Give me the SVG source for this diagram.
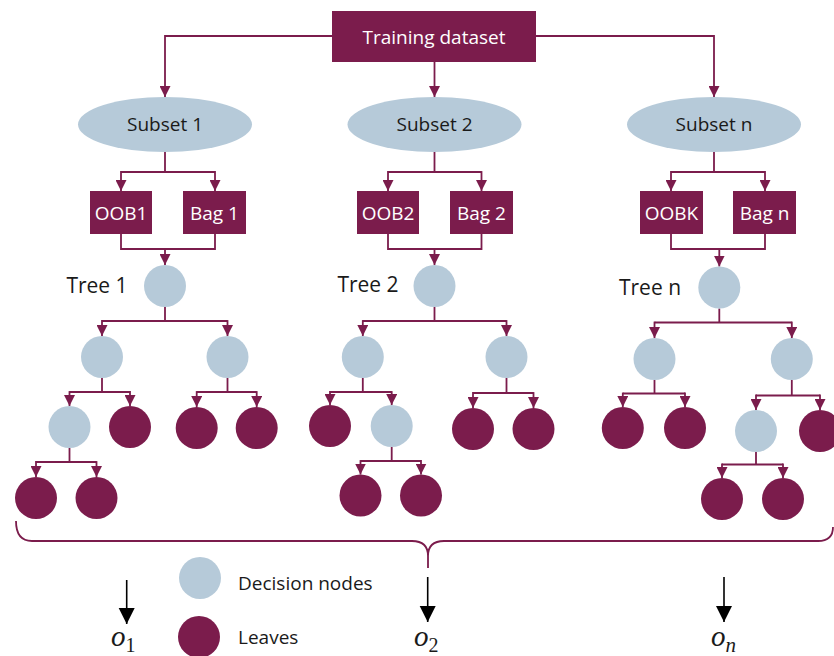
<svg xmlns="http://www.w3.org/2000/svg" width="834" height="656" viewBox="0 0 834 656">
<defs>
<marker id="ah" viewBox="0 0 10 10" refX="10" refY="5" markerUnits="userSpaceOnUse" markerWidth="11" markerHeight="11" orient="auto"><path d="M0,0 L10,5 L0,10 z" fill="#7b1c4c"/></marker>
<marker id="bh" viewBox="0 0 10 10" refX="10" refY="5" markerUnits="userSpaceOnUse" markerWidth="16" markerHeight="17" orient="auto"><path d="M0,0 L10,5 L0,10 z" fill="#000"/></marker>
<style>
.t{font-family:"Open Sans","Liberation Sans",sans-serif;font-size:19px;fill:#1a1a1a;text-anchor:middle}
.tl{font-size:21px}
.w{fill:#ffffff}
.box{fill:#7b1c4c}
.ell{fill:#b6cad9}
.dec{fill:#b6cad9}
.leaf{fill:#7b1c4c}
.c{fill:none;stroke:#7b1c4c;stroke-width:1.8}
.a{marker-end:url(#ah)}
.k{fill:none;stroke:#000;stroke-width:1.6;marker-end:url(#bh)}
.m{font-family:"Liberation Serif","DejaVu Serif",serif;font-style:italic;font-size:29px;fill:#1a1a1a}
.s{font-family:"Liberation Serif","DejaVu Serif",serif;font-size:20px;fill:#1a1a1a}
</style>
</defs>
<rect width="834" height="656" fill="#ffffff"/>

<g id="connectors">
<path class="c a" d="M332,36 H165 V97"/>
<path class="c a" d="M536,36 H714 V97"/>
<path class="c a" d="M434.5,62 V97"/>
<path class="c" d="M165,152 V172 M121,172 H215"/>
<path class="c a" d="M121,171.1 V191"/>
<path class="c a" d="M215,171.1 V191"/>
<path class="c" d="M434.5,152 V172 M388,172 H481.5"/>
<path class="c a" d="M388,171.1 V191"/>
<path class="c a" d="M481.5,171.1 V191"/>
<path class="c" d="M714,152 V172 M671,172 H765"/>
<path class="c a" d="M671,171.1 V191"/>
<path class="c a" d="M765,171.1 V191"/>
<path class="c" d="M121,234 V249 H215 V234"/>
<path class="c a" d="M165,249 V265"/>
<path class="c" d="M388,234 V249 H481.5 V234"/>
<path class="c a" d="M434.5,249 V265"/>
<path class="c" d="M671,234 V249 H765 V234"/>
<path class="c a" d="M719.3,249 V266.5"/>
<path class="c" d="M165,307 V321 M102,321 H227.5"/>
<path class="c a" d="M102,320.1 V336"/>
<path class="c a" d="M227.5,320.1 V336"/>
<path class="c" d="M102,378 V392 M69.5,392 H130"/>
<path class="c a" d="M69.5,391.1 V406"/>
<path class="c a" d="M130,391.1 V406"/>
<path class="c" d="M227.5,378 V392 M196.7,392 H256.7"/>
<path class="c a" d="M196.7,391.1 V407"/>
<path class="c a" d="M256.7,391.1 V407"/>
<path class="c" d="M69.5,448 V462 M36,462 H96.5"/>
<path class="c a" d="M36,461.1 V477"/>
<path class="c a" d="M96.5,461.1 V477"/>
<path class="c" d="M434.5,307 V321 M362.8,321 H506.5"/>
<path class="c a" d="M362.8,320.1 V336"/>
<path class="c a" d="M506.5,320.1 V336"/>
<path class="c" d="M362.8,378 V392 M330,392 H391.7"/>
<path class="c a" d="M330,391.1 V405"/>
<path class="c a" d="M391.7,391.1 V405"/>
<path class="c" d="M391.7,447 V461 M360.5,461 H421"/>
<path class="c a" d="M360.5,460.1 V474.5"/>
<path class="c a" d="M421,460.1 V474.5"/>
<path class="c" d="M506.5,378 V393 M473,393 H533.5"/>
<path class="c a" d="M473,392.1 V408"/>
<path class="c a" d="M533.5,392.1 V408"/>
<path class="c" d="M719.3,308.5 V322.5 M654.5,322.5 H791.8"/>
<path class="c a" d="M654.5,321.6 V338"/>
<path class="c a" d="M791.8,321.6 V338"/>
<path class="c" d="M654.5,380 V393.5 M622.8,393.5 H685"/>
<path class="c a" d="M622.8,392.6 V407"/>
<path class="c a" d="M685,392.6 V407"/>
<path class="c" d="M791.8,380 V395.5 M756,395.5 H820"/>
<path class="c a" d="M756,394.6 V410"/>
<path class="c a" d="M820,394.6 V410"/>
<path class="c" d="M756,452 V464.5 M722,464.5 H783"/>
<path class="c a" d="M722,463.6 V478"/>
<path class="c a" d="M783,463.6 V478"/>
<path class="c" d="M16,521 Q16,541 32,541 L412,541 Q428,541 428,556 L428,568 M428,556 Q428,541 444,541 L818,541 Q833,541 833,527" stroke-width="2"/>
<path class="k" d="M126.7,580 V624"/>
<path class="k" d="M427.7,577 V622"/>
<path class="k" d="M724,577 V622"/>
</g>

<g id="training"><rect class="box" x="332" y="11" width="204" height="51"/><text class="t w" x="434" y="44">Training dataset</text></g>

<g id="subset1"><ellipse class="ell" cx="165" cy="124.5" rx="87" ry="27.5"/><text class="t" x="165" y="131">Subset 1</text></g>
<g id="subset2"><ellipse class="ell" cx="434.5" cy="124.5" rx="87" ry="27.5"/><text class="t" x="434.5" y="131">Subset 2</text></g>
<g id="subsetn"><ellipse class="ell" cx="714" cy="124.5" rx="87" ry="27.5"/><text class="t" x="714" y="131">Subset n</text></g>

<g id="oob1"><rect class="box" x="90" y="191" width="62" height="43"/><text class="t w" x="121" y="220">OOB1</text></g>
<g id="bag1"><rect class="box" x="183" y="191" width="63" height="43"/><text class="t w" x="214.5" y="220">Bag 1</text></g>
<g id="oob2"><rect class="box" x="357" y="191" width="62" height="43"/><text class="t w" x="388" y="220">OOB2</text></g>
<g id="bag2"><rect class="box" x="450" y="191" width="63" height="43"/><text class="t w" x="481.5" y="220">Bag 2</text></g>
<g id="oobk"><rect class="box" x="640" y="191" width="63" height="43"/><text class="t w" x="671.5" y="220">OOBK</text></g>
<g id="bagn"><rect class="box" x="733" y="191" width="63" height="43"/><text class="t w" x="764.5" y="220">Bag n</text></g>

<g id="tree1">
<text class="t tl" x="97" y="293">Tree 1</text>
<circle class="dec" cx="165" cy="286" r="21"/>
<circle class="dec" cx="102" cy="357" r="21"/>
<circle class="dec" cx="227.5" cy="357" r="21"/>
<circle class="dec" cx="69.5" cy="427" r="21"/>
<circle class="leaf" cx="130" cy="427" r="21"/>
<circle class="leaf" cx="196.7" cy="428" r="21"/>
<circle class="leaf" cx="256.7" cy="428" r="21"/>
<circle class="leaf" cx="36" cy="498" r="21"/>
<circle class="leaf" cx="96.5" cy="498" r="21"/>
</g>

<g id="tree2">
<text class="t tl" x="368" y="292">Tree 2</text>
<circle class="dec" cx="434.5" cy="286" r="21"/>
<circle class="dec" cx="362.8" cy="357" r="21"/>
<circle class="dec" cx="506.5" cy="357" r="21"/>
<circle class="leaf" cx="330" cy="426" r="21"/>
<circle class="dec" cx="391.7" cy="426" r="21"/>
<circle class="leaf" cx="360.5" cy="495.5" r="21"/>
<circle class="leaf" cx="421" cy="495.5" r="21"/>
<circle class="leaf" cx="473" cy="429" r="21"/>
<circle class="leaf" cx="533.5" cy="429" r="21"/>
</g>

<g id="treen">
<text class="t tl" x="650" y="295">Tree n</text>
<circle class="dec" cx="719.3" cy="287.5" r="21"/>
<circle class="dec" cx="654.5" cy="359" r="21"/>
<circle class="dec" cx="791.8" cy="359" r="21"/>
<circle class="leaf" cx="622.8" cy="428" r="21"/>
<circle class="leaf" cx="685" cy="428" r="21"/>
<circle class="dec" cx="756" cy="431" r="21"/>
<circle class="leaf" cx="820" cy="431" r="21"/>
<circle class="leaf" cx="722" cy="499" r="21"/>
<circle class="leaf" cx="783" cy="499" r="21"/>
</g>

<g id="legend">
<circle class="dec" cx="200" cy="578" r="21"/>
<text class="t" x="238" y="590" style="text-anchor:start">Decision nodes</text>
<circle class="leaf" cx="199" cy="637" r="21"/>
<text class="t" x="238" y="644" style="text-anchor:start">Leaves</text>
</g>

<g id="outputs">
<text x="111" y="646"><tspan class="m">o</tspan><tspan class="s" dy="6">1</tspan></text>
<text x="414" y="646"><tspan class="m">o</tspan><tspan class="s" dy="6">2</tspan></text>
<text x="711" y="646"><tspan class="m">o</tspan><tspan class="m" dy="6" style="font-size:21px">n</tspan></text>
</g>
</svg>
